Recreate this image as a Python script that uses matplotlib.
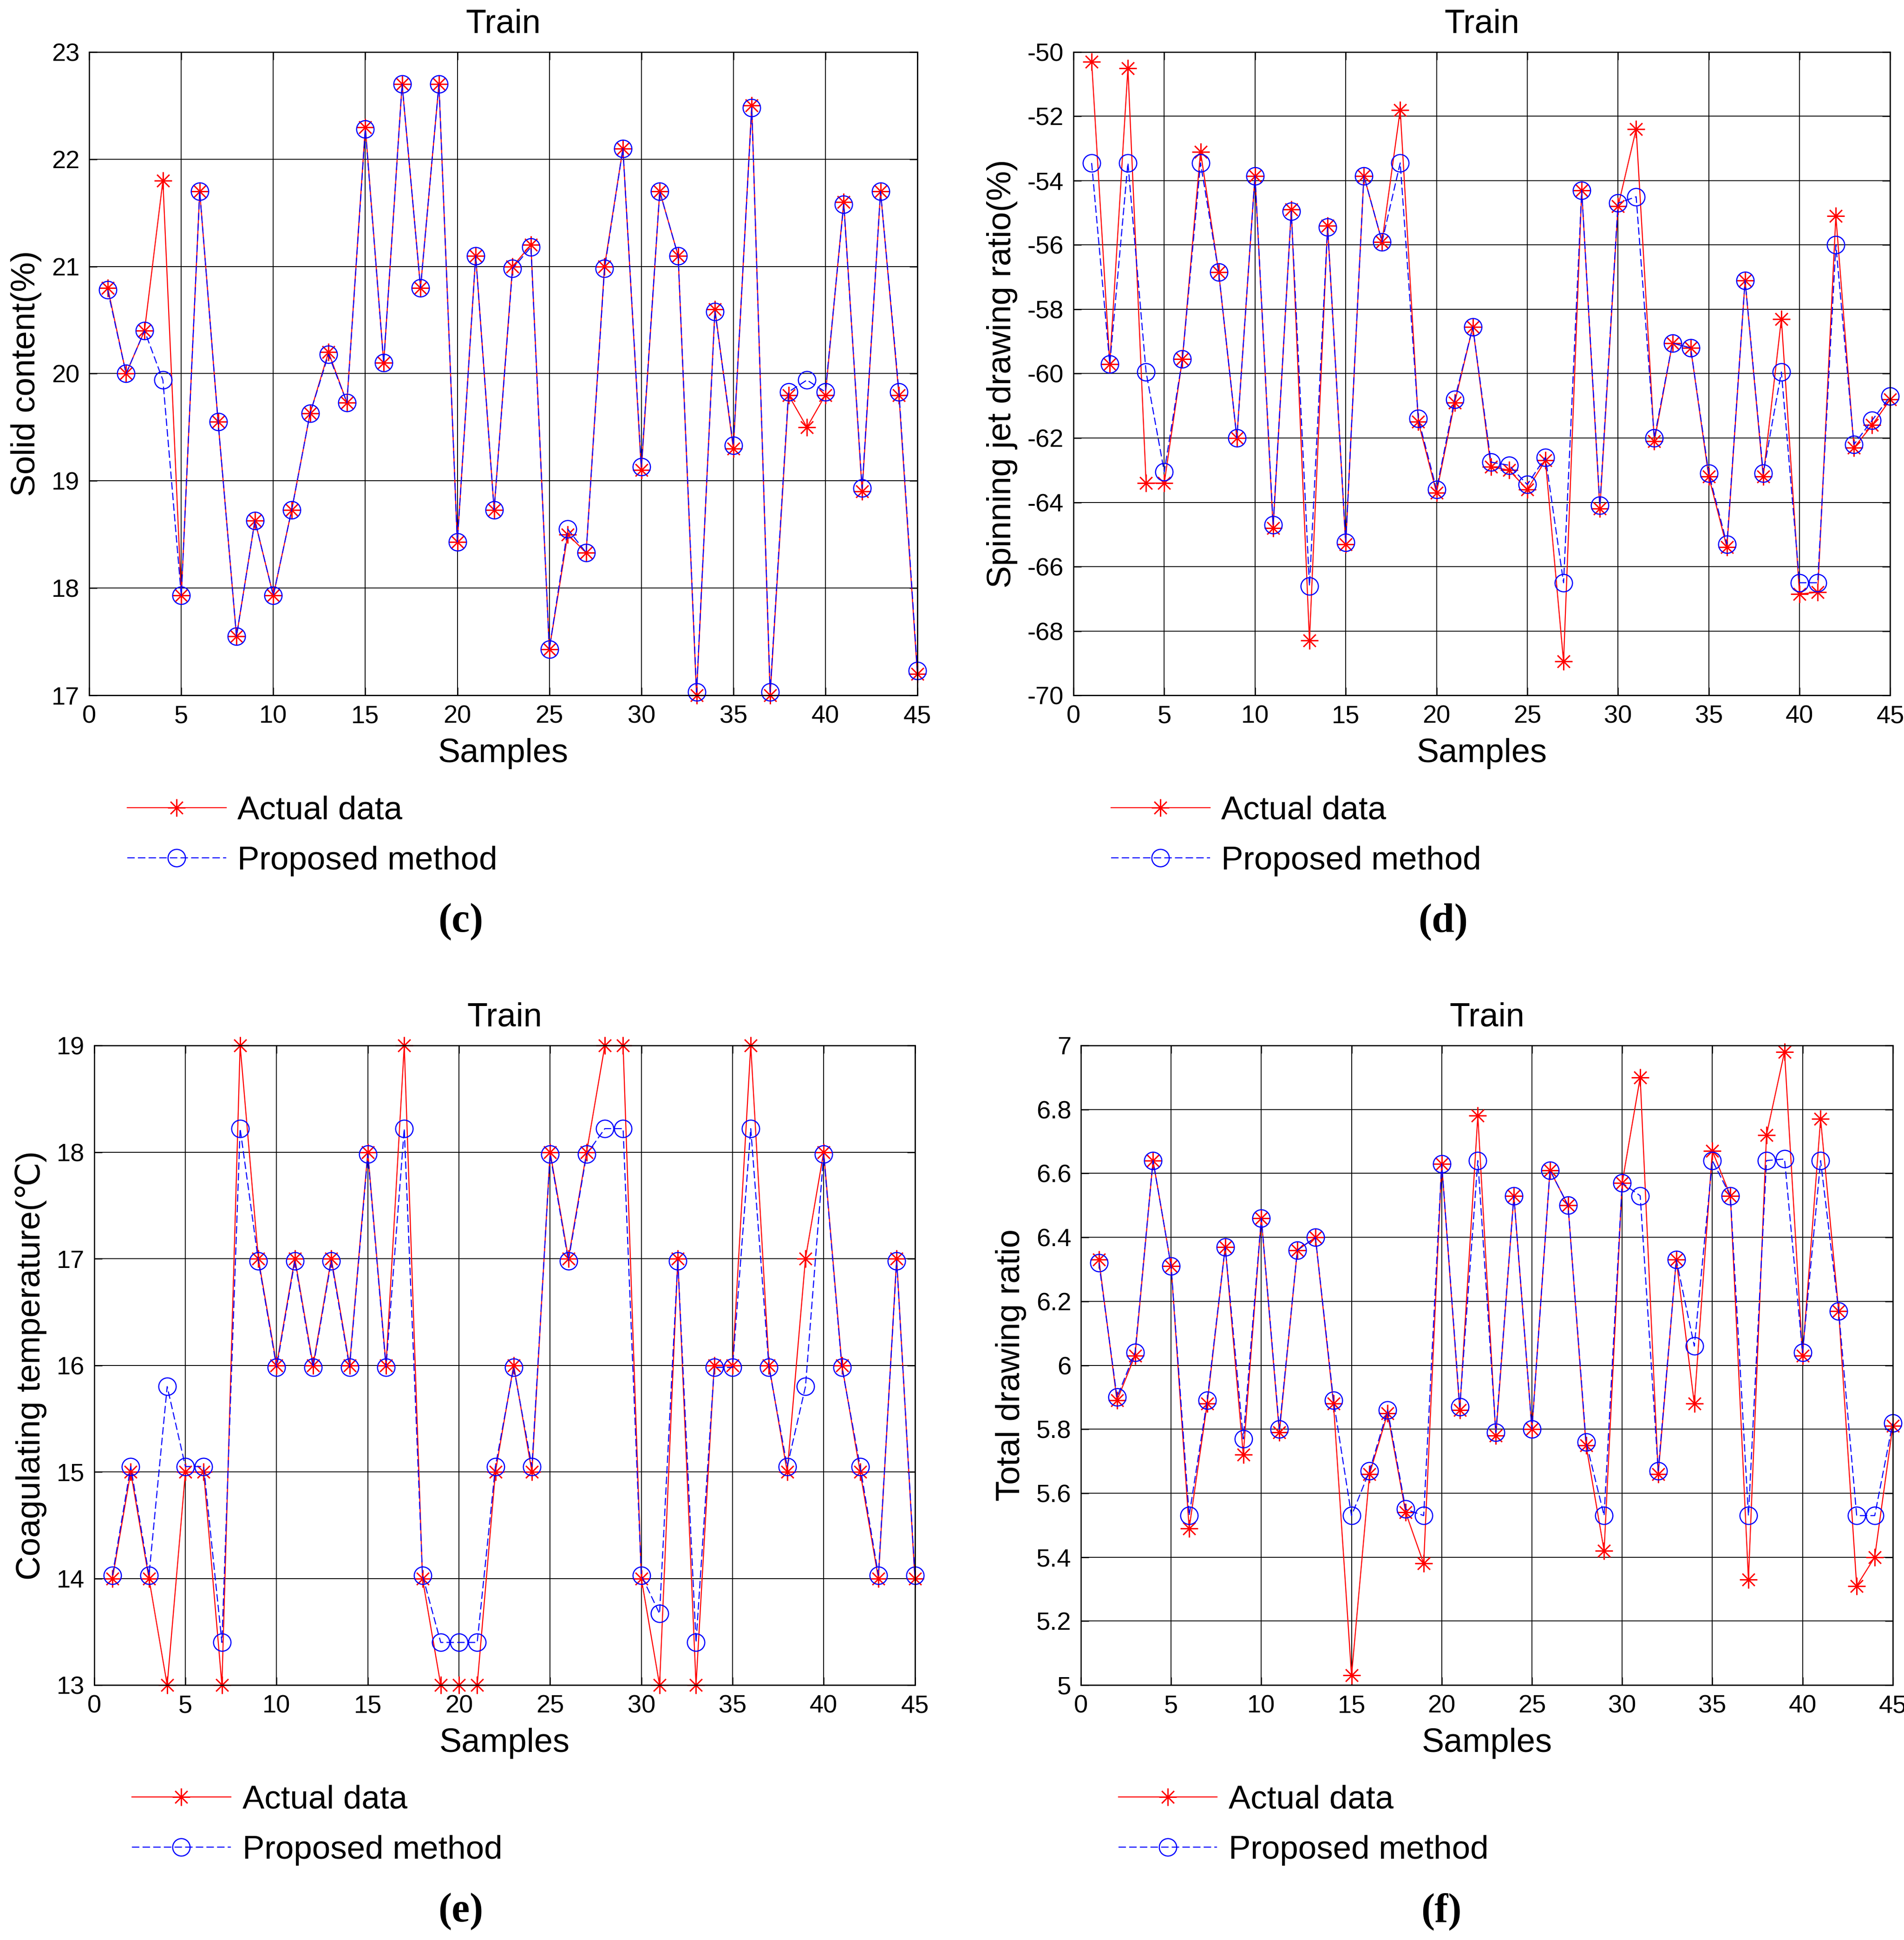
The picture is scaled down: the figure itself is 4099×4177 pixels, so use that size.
import numpy as np
import matplotlib
matplotlib.use('Agg')
import matplotlib.pyplot as plt
from matplotlib.ticker import FuncFormatter

samples = list(range(1, 46))

solid_actual = [20.8, 20.0, 20.4, 21.8, 17.93, 21.7, 19.55, 17.55, 18.63, 17.93,
                18.73, 19.63, 20.2, 19.73, 22.3, 20.1, 22.7, 20.8, 22.7, 18.43,
                21.1, 18.73, 21.0, 21.2, 17.43, 18.5, 18.33, 21.0, 22.1, 19.1,
                21.7, 21.1, 17.0, 20.6, 19.3, 22.5, 17.0, 19.8, 19.5, 19.8,
                21.6, 18.9, 21.7, 19.8, 17.2]
solid_pred = [20.78, 20.0, 20.4, 19.94, 17.93, 21.7, 19.55, 17.55, 18.63, 17.93,
              18.73, 19.63, 20.18, 19.73, 22.28, 20.1, 22.7, 20.8, 22.7, 18.43,
              21.1, 18.73, 20.98, 21.18, 17.43, 18.55, 18.33, 20.98, 22.1, 19.13,
              21.7, 21.1, 17.03, 20.58, 19.33, 22.48, 17.03, 19.83, 19.94, 19.83,
              21.58, 18.93, 21.7, 19.83, 17.23]

spin_actual = [-50.3, -59.7, -50.5, -63.4, -63.4, -59.55, -53.1, -56.85, -62.0, -53.85,
               -64.8, -54.9, -68.3, -55.4, -65.3, -53.85, -55.9, -51.8, -61.5, -63.7,
               -60.9, -58.55, -62.9, -63.0, -63.6, -62.7, -68.95, -54.3, -64.2, -54.8,
               -52.4, -62.1, -59.05, -59.2, -63.2, -65.4, -57.1, -63.2, -58.3, -66.85,
               -66.8, -55.1, -62.3, -61.6, -60.8]
spin_pred = [-53.45, -59.7, -53.45, -59.95, -63.05, -59.55, -53.45, -56.85, -62.0, -53.85,
             -64.7, -54.95, -66.6, -55.45, -65.25, -53.85, -55.9, -53.45, -61.4, -63.6,
             -60.8, -58.55, -62.75, -62.85, -63.45, -62.6, -66.5, -54.3, -64.1, -54.7,
             -54.5, -62.0, -59.05, -59.2, -63.1, -65.3, -57.1, -63.1, -59.95, -66.5,
             -66.5, -56.0, -62.2, -61.45, -60.7]

coag_actual = [14, 15, 14, 13, 15, 15, 13, 19, 17, 16,
               17, 16, 17, 16, 18, 16, 19, 14, 13, 13,
               13, 15, 16, 15, 18, 17, 18, 19, 19, 14,
               13, 17, 13, 16, 16, 19, 16, 15, 17, 18,
               16, 15, 14, 17, 14]
coag_pred = [14.03, 15.05, 14.03, 15.8, 15.05, 15.05, 13.4, 18.22, 16.98, 15.98,
             16.98, 15.98, 16.98, 15.98, 17.98, 15.98, 18.22, 14.03, 13.4, 13.4,
             13.4, 15.05, 15.98, 15.05, 17.98, 16.98, 17.98, 18.22, 18.22, 14.03,
             13.67, 16.98, 13.4, 15.98, 15.98, 18.22, 15.98, 15.05, 15.8, 17.98,
             15.98, 15.05, 14.03, 16.98, 14.03]

tdr_actual = [6.33, 5.89, 6.03, 6.64, 6.31, 5.49, 5.88, 6.37, 5.72, 6.46,
              5.79, 6.36, 6.40, 5.88, 5.03, 5.66, 5.85, 5.54, 5.38, 6.63,
              5.86, 6.78, 5.78, 6.53, 5.80, 6.61, 6.50, 5.75, 5.42, 6.57,
              6.90, 5.66, 6.33, 5.88, 6.67, 6.53, 5.33, 6.72, 6.98, 6.03,
              6.77, 6.17, 5.31, 5.40, 5.81]
tdr_pred = [6.32, 5.90, 6.04, 6.64, 6.31, 5.53, 5.89, 6.37, 5.77, 6.46,
            5.80, 6.36, 6.40, 5.89, 5.53, 5.67, 5.86, 5.55, 5.53, 6.63,
            5.87, 6.64, 5.79, 6.53, 5.80, 6.61, 6.50, 5.76, 5.53, 6.57,
            6.53, 5.67, 6.33, 6.06, 6.64, 6.53, 5.53, 6.64, 6.645, 6.04,
            6.64, 6.17, 5.53, 5.53, 5.82]

panels = [
    ('Solid content(%)', solid_actual, solid_pred, (17, 23), np.arange(17, 23.01, 1), '(c)'),
    ('Spinning jet drawing ratio(%)', spin_actual, spin_pred, (-70, -50), np.arange(-70, -49.99, 2), '(d)'),
    ('Coagulating temperature(\u2103)', coag_actual, coag_pred, (13, 19), np.arange(13, 19.01, 1), '(e)'),
    ('Total drawing ratio', tdr_actual, tdr_pred, (5, 7), np.arange(5, 7.01, 0.2), '(f)'),
]

# axes rectangles (left, bottom, width, height) in figure fractions
rects = [
    (0.0469, 0.6416, 0.4349, 0.3316),
    (0.5638, 0.6416, 0.4290, 0.3316),
    (0.0495, 0.1314, 0.4310, 0.3297),
    (0.5677, 0.1314, 0.4264, 0.3297),
]
label_pos = [(0.242, 0.525), (0.758, 0.525), (0.242, 0.0147), (0.757, 0.0147)]

plt.rcParams['font.family'] = ['Liberation Sans', 'DejaVu Sans']

fig = plt.figure(figsize=(4099 / 300, 4177 / 300), dpi=300)

for (ylab, act, pred, ylim, yticks, tag), rect, lp in zip(panels, rects, label_pos):
    ax = fig.add_axes(rect)
    ax.plot(samples, act, color='red', linestyle='-', linewidth=0.55,
            marker=(8, 2, 0), markersize=9, markeredgewidth=0.6, label='Actual data', clip_on=False)
    ax.plot(samples, pred, color='blue', linestyle='--', dashes=(7, 3), linewidth=0.55,
            marker='o', markersize=9, markerfacecolor='none', markeredgewidth=0.6,
            label='Proposed method', clip_on=False)
    ax.set_xlim(0, 45)
    ax.set_ylim(*ylim)
    ax.set_xticks(np.arange(0, 46, 5))
    ax.set_yticks(yticks)
    ax.yaxis.set_major_formatter(FuncFormatter(lambda v, p: '%g' % round(v, 2)))
    ax.grid(True, color='black', linewidth=0.45)
    ax.tick_params(direction='in', top=True, right=True, length=4, width=0.6,
                   labelsize=13, pad=5)
    for lbl in ax.get_xticklabels() + ax.get_yticklabels():
        lbl.set_family(['Liberation Sans Narrow', 'Liberation Sans'])
    for sp in ax.spines.values():
        sp.set_linewidth(0.6)
    ax.set_title('Train', fontsize=17.3, pad=10)
    ax.set_xlabel('Samples', fontsize=17.3, labelpad=5)
    ax.set_ylabel(ylab, fontsize=17.3, labelpad=5)
    ax.legend(loc='upper left', bbox_to_anchor=(0.03, -0.135), frameon=False,
              fontsize=17, handlelength=3.0, handletextpad=0.35, labelspacing=0.6,
              borderaxespad=0)
    fig.text(lp[0], lp[1], tag, fontsize=21, fontweight='bold',
             family=['Liberation Serif', 'DejaVu Serif'], ha='center', va='center')

fig.savefig('out.png', dpi=300)
